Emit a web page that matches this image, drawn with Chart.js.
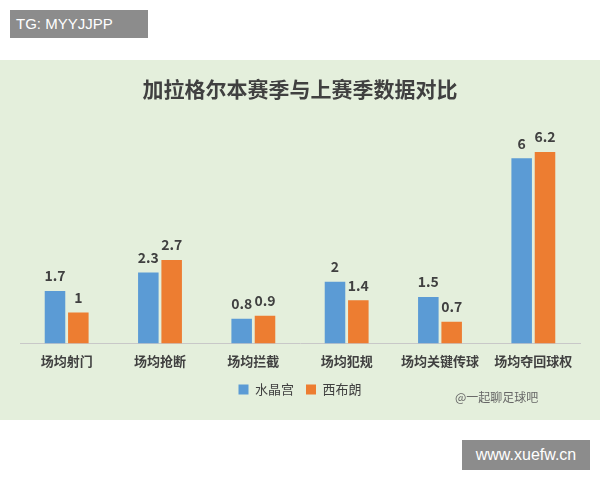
<!DOCTYPE html>
<html><head><meta charset="utf-8">
<script src="https://cdn.jsdelivr.net/npm/chart.js@4/dist/chart.umd.min.js"></script>
<style>
body{margin:0;width:600px;height:480px;background:#fff;position:relative;font-family:"Noto Sans CJK SC",sans-serif;overflow:hidden}
#tg{position:absolute;left:10px;top:10px;width:138px;height:28px;background:#8c8c8c;color:#fff;font:15px "Liberation Sans",sans-serif;line-height:28px;padding-left:6px;box-sizing:border-box}
#panel{position:absolute;left:0;top:60px;width:600px;height:360px;background:#e4efdc}
#wm{position:absolute;left:455px;top:388px;color:#666;font-size:12px}
#url{position:absolute;left:462px;top:440px;width:128px;height:30px;background:#8c8c8c;color:#fff;font:16px "Liberation Sans",sans-serif;line-height:30px;text-align:center}
</style></head><body>
<div id="tg">TG: MYYJJPP</div>
<div id="panel"><canvas id="c" width="600" height="360"></canvas></div>
<div id="wm">@一起聊足球吧</div>
<div id="url">www.xuefw.cn</div>
<script>
const categories=["场均射门","场均抢断","场均拦截","场均犯规","场均关键传球","场均夺回球权"];
const crystal=[1.7,2.3,0.8,2,1.5,6];
const brentford=[1,2.7,0.9,1.4,0.7,6.2];
const valLabels={id:'vl',afterDatasetsDraw(ch){const x=ch.ctx;x.save();x.font='bold 14px "Noto Sans CJK SC"';x.fillStyle='#404040';x.textAlign='center';x.textBaseline='bottom';
ch.data.datasets.forEach((d,i)=>{ch.getDatasetMeta(i).data.forEach((b,j)=>{x.fillText(String(d.data[j]),b.x,b.y-8);});});x.restore();}};
new Chart(document.getElementById('c'),{type:'bar',
data:{labels:categories,datasets:[
{label:'水晶宫',data:crystal,backgroundColor:'#5b9bd5'},
{label:'西布朗',data:brentford,backgroundColor:'#ed7d31'}]},
options:{responsive:false,animation:false,
layout:{padding:{left:20,right:20,top:10,bottom:14}},
datasets:{bar:{categoryPercentage:0.5,barPercentage:0.88}},
plugins:{title:{display:true,text:'加拉格尔本赛季与上赛季数据对比',color:'#404040',font:{size:21,weight:'bold',family:'Noto Sans CJK SC'},padding:{top:6,bottom:20}},
legend:{position:'bottom',labels:{boxWidth:10,boxHeight:10,color:'#404040',font:{size:13,family:'Noto Sans CJK SC'},padding:12}},tooltip:{enabled:false}},
scales:{y:{display:false,min:0,max:7.2},
x:{grid:{display:false},border:{color:'#c8c8c8'},ticks:{padding:2,color:'#404040',font:{size:13,weight:'bold',family:'Noto Sans CJK SC'}}}}},
plugins:[valLabels]});
</script></body></html>
